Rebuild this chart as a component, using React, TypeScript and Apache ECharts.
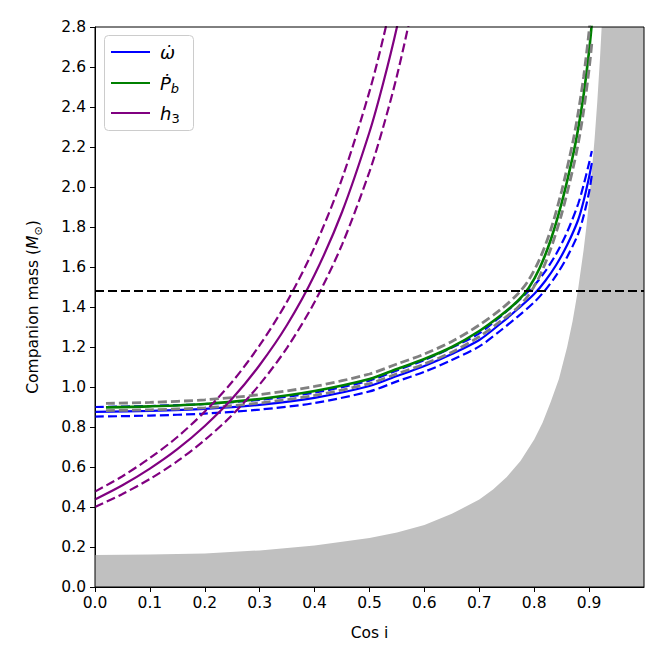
import React, { useEffect, useRef } from "react";
import * as echarts from "echarts";

// ---- tick labels ----
const xTicks = [0, 0.1, 0.2, 0.3, 0.4, 0.5, 0.6, 0.7, 0.8, 0.9];

// ---- excluded region (mass function limit), lower boundary of gray area ----
const boundCos = [0, 0.1, 0.2, 0.3, 0.4, 0.5, 0.55, 0.6, 0.65, 0.7, 0.725, 0.75, 0.775, 0.8, 0.815, 0.83, 0.845, 0.86, 0.87, 0.88, 0.89, 0.895, 0.9, 0.905, 0.91, 0.915, 0.92, 0.925, 0.93, 0.95, 1.0];
const boundMass = [0.16, 0.162, 0.168, 0.183, 0.207, 0.245, 0.272, 0.31, 0.366, 0.437, 0.488, 0.55, 0.63, 0.738, 0.82, 0.925, 1.04, 1.2, 1.33, 1.49, 1.685, 1.8, 1.93, 2.08, 2.24, 2.43, 2.65, 2.91, 3.2, 5.0, 5.0];

// ---- omega-dot constraint ----
const omCos = [0, 0.1, 0.2, 0.3, 0.4, 0.5, 0.55, 0.6, 0.65, 0.7, 0.74, 0.77, 0.8, 0.82, 0.84, 0.86, 0.88, 0.89, 0.9, 0.905];
const omMid = [0.876, 0.881, 0.891, 0.911, 0.946, 1.005, 1.055, 1.105, 1.165, 1.235, 1.32, 1.39, 1.465, 1.53, 1.61, 1.71, 1.835, 1.93, 2.05, 2.12];
const omHi = [0.9, 0.905, 0.915, 0.936, 0.972, 1.032, 1.083, 1.135, 1.197, 1.268, 1.356, 1.428, 1.508, 1.578, 1.665, 1.775, 1.915, 2.01, 2.12, 2.18];
const omLo = [0.852, 0.857, 0.867, 0.887, 0.92, 0.978, 1.028, 1.076, 1.135, 1.203, 1.285, 1.352, 1.424, 1.484, 1.558, 1.65, 1.765, 1.855, 1.975, 2.06];

// ---- Pb-dot constraint ----
const pbCos = [0.02, 0.1, 0.2, 0.3, 0.4, 0.5, 0.55, 0.6, 0.65, 0.7, 0.74, 0.77, 0.79, 0.81, 0.83, 0.85, 0.87, 0.88, 0.89, 0.9, 0.905];
const pbMid = [0.898, 0.903, 0.915, 0.94, 0.98, 1.04, 1.09, 1.14, 1.2, 1.28, 1.36, 1.43, 1.495, 1.595, 1.735, 1.92, 2.15, 2.29, 2.46, 2.68, 2.82];
const pbHi = [0.918, 0.923, 0.936, 0.962, 1.003, 1.065, 1.115, 1.165, 1.228, 1.31, 1.39, 1.465, 1.535, 1.64, 1.785, 1.98, 2.22, 2.37, 2.55, 2.78, 2.92];
const pbLo = [0.882, 0.886, 0.896, 0.92, 0.958, 1.017, 1.066, 1.115, 1.174, 1.252, 1.332, 1.398, 1.46, 1.555, 1.69, 1.865, 2.085, 2.215, 2.38, 2.59, 2.72];

// ---- h3 (Shapiro) constraint ----
const h3Cos = [0, 0.05, 0.1, 0.15, 0.2, 0.25, 0.3, 0.35, 0.4, 0.45, 0.5, 0.525, 0.55, 0.575, 0.6];
const h3Mid = [0.438, 0.509, 0.592, 0.689, 0.805, 0.942, 1.11, 1.311, 1.561, 1.875, 2.275, 2.52, 2.8, 3.13, 3.5];
const h3Hi = [0.477, 0.554, 0.645, 0.75, 0.877, 1.026, 1.209, 1.428, 1.7, 2.042, 2.478, 2.745, 3.05, 3.41, 3.82];
const h3Lo = [0.4, 0.465, 0.54, 0.629, 0.735, 0.86, 1.013, 1.197, 1.425, 1.712, 2.077, 2.3, 2.556, 2.86, 3.2];

// ---- horizontal limit ----
const limitCos = [0, 1];
const limitMass = [1.48, 1.48];

const BLUE = "#0000ff";
const GREEN = "#008000";
const PURPLE = "#800080";
const GRAY = "#808080";
const FONT = "DejaVu Sans";
const FS = 15.5;

const pairs = (xs: number[], ys: number[]) => xs.map((x, i) => [x, ys[i]]);

const line = (xs: number[], ys: number[], color: string, dashed: boolean, width = 2.2) => ({
  type: "line",
  data: pairs(xs, ys),
  symbol: "none",
  showSymbol: false,
  smooth: 0.3,
  clip: true,
  lineStyle: { color, width, type: dashed ? [9, 4] : "solid", cap: "butt" },
  silent: true,
  z: 3,
});

export default function App() {
  const ref = useRef<HTMLDivElement>(null);
  useEffect(() => {
    if (!ref.current) return;
    const chart = echarts.init(ref.current, undefined, { renderer: "svg" });
    const gl = 95, gt = 27, gw = 549, gh = 560;
    const option: any = {
      animation: false,
      textStyle: { fontFamily: FONT, color: "#000" },
      grid: { left: gl, top: gt, width: gw, height: gh, containLabel: false },
      xAxis: {
        type: "value",
        min: 0,
        max: 1,
        interval: 0.1,
        name: "Cos i",
        nameLocation: "middle",
        nameGap: 38,
        nameTextStyle: { fontSize: FS, color: "#000", fontFamily: FONT },
        axisLine: { show: true, onZero: false, lineStyle: { color: "#000", width: 1 } },
        axisTick: { show: true, length: 5, lineStyle: { color: "#000", width: 1 }, customValues: xTicks },
        axisLabel: {
          fontSize: FS, color: "#000", fontFamily: FONT, margin: 8,
          customValues: xTicks,
          formatter: (v: number) => v.toFixed(1),
        },
        splitLine: { show: false },
      },
      yAxis: {
        type: "value",
        min: 0,
        max: 2.8,
        interval: 0.2,
        name: "{n|Companion mass (}{i|M}{s|⊙}{n|)}",
        nameLocation: "middle",
        nameGap: 51,
        nameTextStyle: {
          fontFamily: FONT,
          color: "#000",
          rich: {
            n: { fontSize: FS, fontFamily: FONT, lineHeight: 22, verticalAlign: "middle", color: "#000" },
            i: { fontSize: FS, fontFamily: FONT, fontStyle: "italic", lineHeight: 22, verticalAlign: "middle", color: "#000" },
            s: { fontSize: 11, fontFamily: FONT, lineHeight: 11, verticalAlign: "bottom", color: "#000" },
          },
        },
        axisLine: { show: true, onZero: false, lineStyle: { color: "#000", width: 1 } },
        axisTick: { show: true, length: 5, lineStyle: { color: "#000", width: 1 } },
        axisLabel: { fontSize: FS, color: "#000", fontFamily: FONT, margin: 9, formatter: (v: number) => v.toFixed(1) },
        splitLine: { show: false },
      },
      series: [
        {
          type: "line",
          data: pairs(boundCos, boundMass),
          symbol: "none",
          showSymbol: false,
          clip: true,
          lineStyle: { width: 0, color: "#c0c0c0" },
          areaStyle: { color: "#c0c0c0", opacity: 1 },
          silent: true,
          z: 1,
        },
        line(omCos, omLo, BLUE, true),
        line(omCos, omHi, BLUE, true),
        line(omCos, omMid, BLUE, false),
        line(pbCos, pbMid, GREEN, false, 2.6),
        line(pbCos, pbHi, GRAY, true, 2.8),
        line(pbCos, pbLo, GRAY, true, 2.8),
        line(h3Cos, h3Hi, PURPLE, true),
        line(h3Cos, h3Lo, PURPLE, true),
        line(h3Cos, h3Mid, PURPLE, false),
        { ...line(limitCos, limitMass, "#000", true), smooth: false, z: 4 },
      ],
      graphic: [
        {
          type: "rect",
          z: 50,
          silent: true,
          shape: { x: gl, y: gt, width: gw, height: gh },
          style: { fill: "none", stroke: "#000", lineWidth: 1 },
        },
        {
          type: "group",
          z: 60,
          silent: true,
          children: [
            {
              type: "rect",
              shape: { x: 104.5, y: 35.5, width: 89, height: 95, r: 4 },
              style: { fill: "rgba(255,255,255,0.8)", stroke: "#cccccc", lineWidth: 1 },
            },
            { type: "line", shape: { x1: 111, y1: 52, x2: 150, y2: 52 }, style: { stroke: BLUE, lineWidth: 2.2 } },
            { type: "line", shape: { x1: 111, y1: 83, x2: 150, y2: 83 }, style: { stroke: GREEN, lineWidth: 2.2 } },
            { type: "line", shape: { x1: 111, y1: 113, x2: 150, y2: 113 }, style: { stroke: PURPLE, lineWidth: 2.2 } },
            {
              type: "text",
              x: 160,
              y: 52,
              style: {
                text: "ω̇",
                fontFamily: FONT,
                fontStyle: "italic",
                fontSize: 18,
                fill: "#000",
                verticalAlign: "middle",
              },
            },
            {
              type: "text",
              x: 160,
              y: 83,
              style: {
                text: "{i|Ṗ}{s|b}",
                verticalAlign: "middle",
                rich: {
                  i: { fontFamily: FONT, fontStyle: "italic", fontSize: 18, lineHeight: 24, verticalAlign: "middle", fill: "#000" },
                  s: { fontFamily: FONT, fontStyle: "italic", fontSize: 13, lineHeight: 12, verticalAlign: "bottom", fill: "#000" },
                },
              },
            },
            {
              type: "text",
              x: 160,
              y: 113,
              style: {
                text: "{i|h}{s|3}",
                verticalAlign: "middle",
                rich: {
                  i: { fontFamily: FONT, fontStyle: "italic", fontSize: 18, lineHeight: 24, verticalAlign: "middle", fill: "#000" },
                  s: { fontFamily: FONT, fontSize: 13, lineHeight: 12, verticalAlign: "bottom", fill: "#000" },
                },
              },
            },
          ],
        },
      ],
    };
    chart.setOption(option);
    return () => chart.dispose();
  }, []);
  return (
    <div
      ref={ref}
      style={{ position: "fixed", left: 0, top: 0, width: 664, height: 664, background: "#fff" }}
    />
  );
}
